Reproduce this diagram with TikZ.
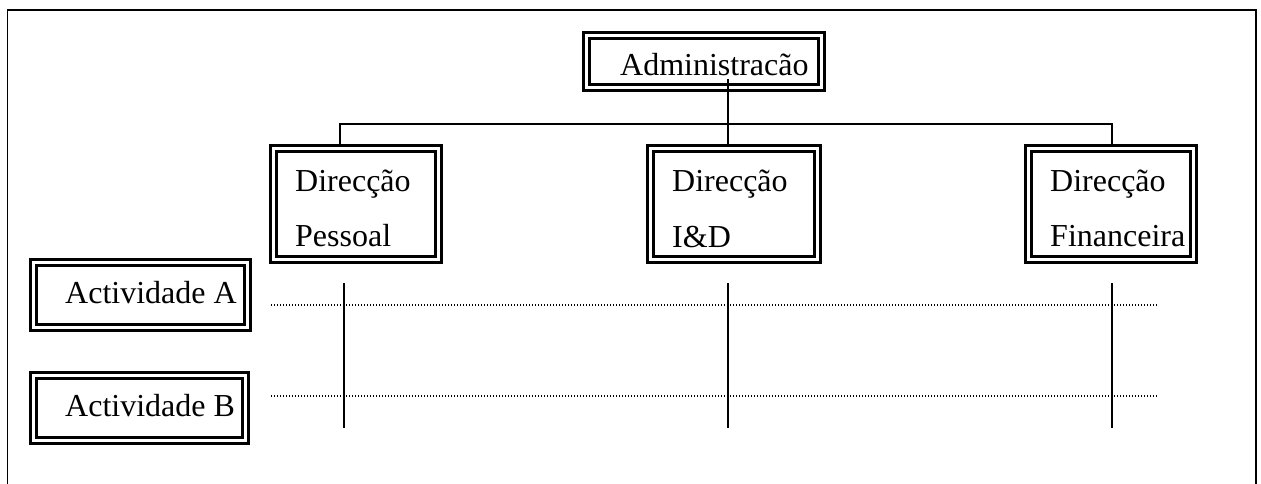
\documentclass[tikz,border=0pt]{standalone}
\usepackage{fontspec}
\setmainfont{Liberation Serif}
\usepackage{tikz}

\tikzset{
  dblbox/.style={draw, double, double distance=3pt, line width=3pt, inner sep=0pt},
  lbl/.style={anchor=base west, inner sep=0pt},
  dots/.style={line width=1.4pt, dash pattern=on 1.4pt off 1.6pt},
}

\begin{document}
\begin{tikzpicture}[x=1pt,y=1pt,yscale=-1,font=\fontsize{32}{38}\selectfont]
\useasboundingbox (0,0) rectangle (1261,484);
%Outer frame
\draw [line width=1.8pt] (7.5,484) -- (7.5,10) -- (1256,10) -- (1256,484) ;

%Boxes
\node [dblbox, minimum width=235pt, minimum height=52pt] (adm) at (703.5,62) {};
\node [dblbox, minimum width=165pt, minimum height=110pt] (pes) at (355.5,204) {};
\node [dblbox, minimum width=167pt, minimum height=110pt] (ind) at (733.5,204) {};
\node [dblbox, minimum width=165pt, minimum height=110pt] (fin) at (1110.5,204) {};
\node [dblbox, minimum width=214pt, minimum height=65pt] (actA) at (140,294.5) {};
\node [dblbox, minimum width=212pt, minimum height=65pt] (actB) at (139,407.5) {};

% Text Node
\node [lbl] (admT) at (620,76) {Administracão};
\node [lbl] (pesT) at (295,191) {Direcção};
\node [lbl] (pesB) at (295,246) {Pessoal};
\node [lbl] (indT) at (672,191) {Direcção};
\node [lbl] (indB) at (672,247) {I\&D};
\node [lbl] (finT) at (1050,191) {Direcção};
\node [lbl] (finB) at (1050,246) {Financeira};
\node [lbl] (actAT) at (65,303) {Actividade A};
\node [lbl] (actBT) at (65,416) {Actividade B};

%Connectors
\coordinate (admfoot) at (728,79);
\coordinate (busL) at (340,124);
\coordinate (busR) at (1112,124);
\draw [line width=1.5pt] (admfoot) -- (admfoot |- busL) -- (admfoot |- ind.north) ;
\draw [line width=1.5pt] (busL |- pes.north) -- (busL) -- (busR) -- (busR |- fin.north) ;

%Activity lines
\coordinate (rowA) at (1158,305);
\coordinate (rowB) at (1158,396);
\draw [dots] (271,305) -- (rowA) ;
\draw [dots] (271,396) -- (rowB) ;
\foreach \x/\n in {344/p,728/i,1112/f}{
  \coordinate (\n top) at (\x,283);
  \coordinate (\n bot) at (\x,428);
  \draw [line width=1.8pt] (\n top) -- (\n bot) ;
}
\end{tikzpicture}
\end{document}
